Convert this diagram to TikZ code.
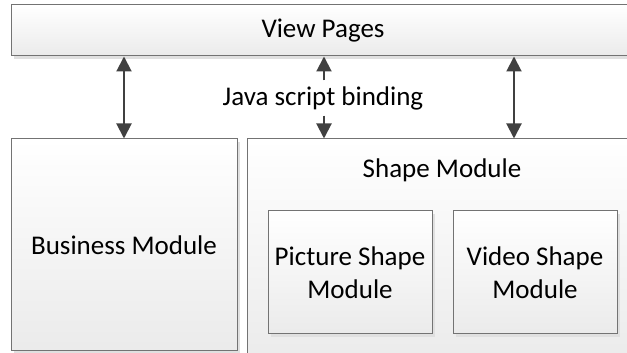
\documentclass[tikz,border=0pt]{standalone}
\usepackage{fontspec}
\setmainfont{Carlito}
\usetikzlibrary{positioning,shadows,arrows.meta}

\begin{document}
\begin{tikzpicture}[x=1pt,y=1pt,>={Triangle[length=15pt,width=15pt]},
                    box/.style={rectangle,draw=black!55,line width=1pt,top color=white,bottom color=black!8,
                      drop shadow={shadow xshift=3pt,shadow yshift=-3pt,fill=black!12,opacity=1},
                      font=\fontsize{27}{33}\selectfont,align=center,inner sep=0pt},
                    link/.style={<->,line width=2pt,draw=black!75}
                   ]
  \useasboundingbox (0,0) rectangle (627,353);
  \clip (0,0) rectangle (627,353);

  \node[box,minimum width=624,minimum height=51] (view) at (323,322.5) {View Pages};
  \node[box,minimum width=226,minimum height=212] (biz) at (124,108) {Business Module};
  \node[box,minimum width=390,minimum height=226] (shape) at (442,101) {};
  \node[font=\fontsize{27}{33}\selectfont] (shapelbl) at (442,183) {Shape Module};
  \node[box,minimum width=164,minimum height=123] (pic) at (350,80.5) {Picture Shape\\Module};
  \node[box,minimum width=164,minimum height=123] (video) at (535,80.5) {Video Shape\\Module};
  \node[font=\fontsize{27}{33}\selectfont,inner sep=0pt,minimum height=35] (js) at (323,255) {Java script binding};
  \coordinate (rb) at (514,0);

  \draw[link] (biz.north) -- (biz.north |- view.south);
  \draw[link,->] (js.north -| 324,0) -- (view.south -| 324,0);
  \draw[link,->] (js.south -| 324,0) -- (shape.north -| 324,0);
  \draw[link] (view.south -| rb) -- (shape.north -| rb);
\end{tikzpicture}
\end{document}
